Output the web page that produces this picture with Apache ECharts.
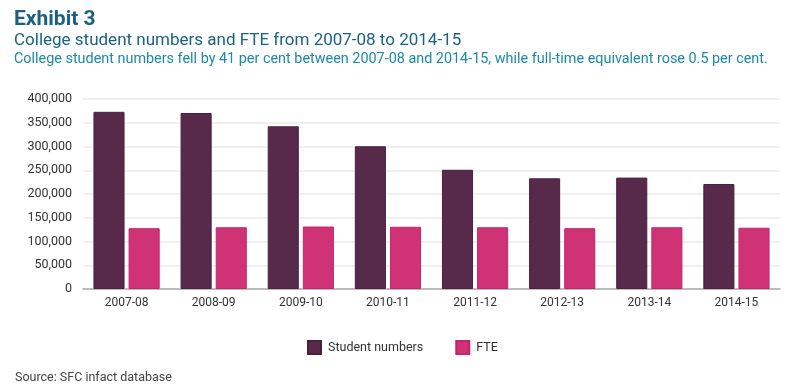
<!DOCTYPE html>
<html><head><meta charset="utf-8">
<script src="https://cdn.jsdelivr.net/npm/echarts@6/dist/echarts.min.js"></script>
<style>html,body{margin:0;padding:0;background:#fff}#c{width:800px;height:391px}</style>
</head><body><div id="c"></div>
<script>
const categories = ['2007-08','2008-09','2009-10','2010-11','2011-12','2012-13','2013-14','2014-15'];
const studentNumbers = [373000, 370500, 342500, 300500, 251000, 233000, 234500, 221000];
const fte = [128000, 130000, 131500, 131000, 130000, 128000, 130000, 129000];
const seriesNames = ['Student numbers', 'FTE'];
const yTicks = {min: 0, max: 400000, interval: 50000};

const chart = echarts.init(document.getElementById('c'), null, {renderer: 'canvas'});
const ff = 'Roboto, "Liberation Sans", sans-serif';
chart.setOption({
  animation: false,
  backgroundColor: '#fff',
  title: [
    {text: 'Exhibit 3', left: 9, top: 4, textStyle: {fontFamily: ff, fontSize: 21, fontWeight: 'bold', color: '#1b6282'}},
    {text: 'College student numbers and FTE from 2007-08 to 2014-15', left: 9, top: 27, textStyle: {fontFamily: ff, fontSize: 17, fontWeight: 'normal', color: '#1b6282'}},
    {text: 'College student numbers fell by 41 per cent between 2007-08 and 2014-15, while full-time equivalent rose 0.5 per cent.', left: 9, top: 47, textStyle: {fontFamily: ff, fontSize: 14.4, fontWeight: 'normal', color: '#1b8aa8'}},
    {text: 'Source: SFC infact database', left: 10, top: 366, textStyle: {fontFamily: ff, fontSize: 12.5, fontWeight: 'normal', color: '#444'}}
  ],
  legend: {
    data: seriesNames, top: 335, left: 302, itemWidth: 13, itemHeight: 13, itemGap: 32,
    icon: 'rect',
    textStyle: {fontFamily: ff, fontSize: 12.5, color: '#333', padding: [0,0,0,2]}
  },
  grid: {left: 83, right: 20, top: 99, bottom: 102, containLabel: false},
  xAxis: {
    type: 'category', data: categories,
    axisLine: {lineStyle: {color: '#aaa', width: 1.5}},
    axisTick: {show: false},
    axisLabel: {fontFamily: ff, fontSize: 12, color: '#333', margin: 8}
  },
  yAxis: {
    type: 'value', min: yTicks.min, max: yTicks.max, interval: yTicks.interval,
    axisLine: {show: false}, axisTick: {show: false},
    splitLine: {lineStyle: {color: '#ebebeb', width: 1.5}},
    axisLabel: {fontFamily: ff, fontSize: 12.5, color: '#333', margin: 11,
      formatter: v => v.toLocaleString('en-US')}
  },
  series: [
    {name: seriesNames[0], type: 'bar', data: studentNumbers, barGap: '13%', barCategoryGap: '24%',
     itemStyle: {color: '#57294b', borderColor: '#4a1f3f', borderWidth: 1}},
    {name: seriesNames[1], type: 'bar', data: fte,
     itemStyle: {color: '#d03375', borderColor: '#c42468', borderWidth: 1}}
  ]
});
</script></body></html>
